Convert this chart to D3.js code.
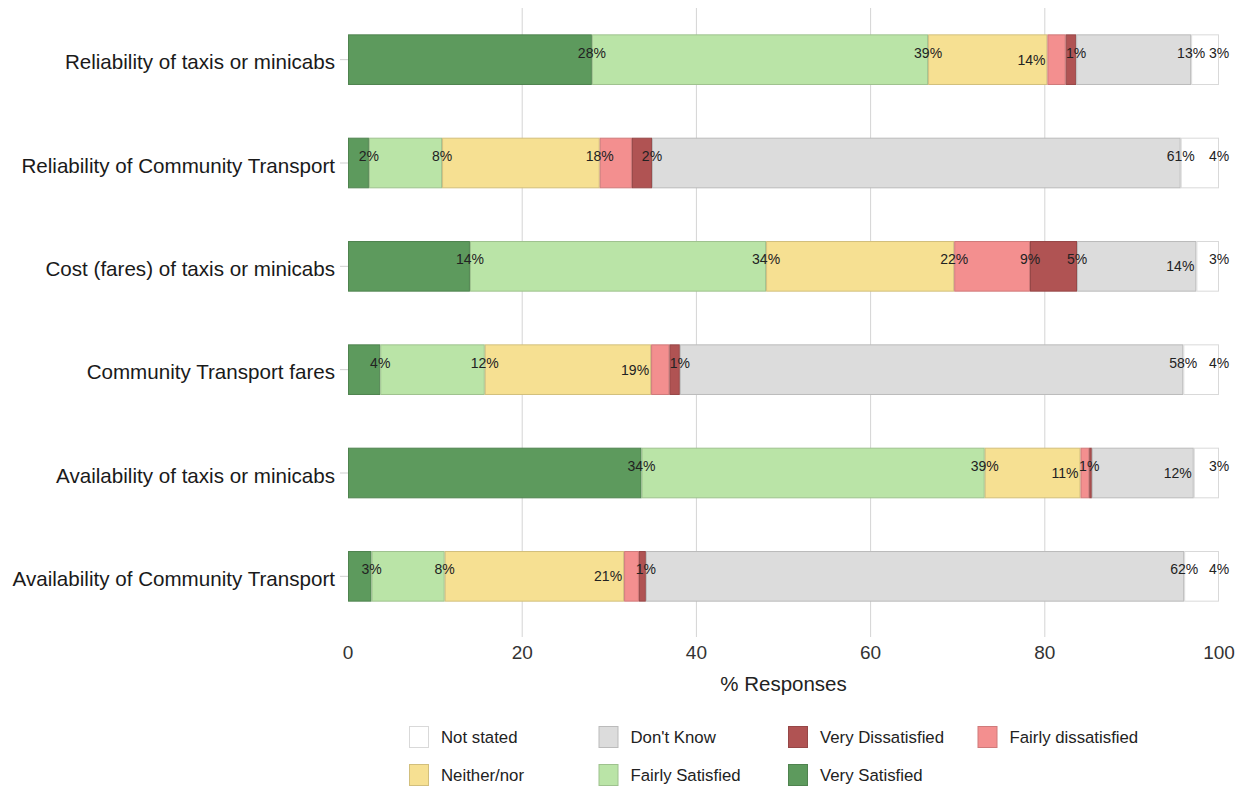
<!DOCTYPE html>
<html>
<head>
<meta charset="utf-8">
<script src="https://cdn.jsdelivr.net/npm/d3@7"></script>
<style>
  body { margin: 0; background: #fff; }
  text { font-family: "Liberation Sans", Arial, sans-serif; }
</style>
</head>
<body>
<svg class="chart" width="1247" height="792"></svg>
<script>
// questions, top to bottom
const questions = [
    "Reliability of taxis or minicabs",
    "Reliability of Community Transport",
    "Cost (fares) of taxis or minicabs",
    "Community Transport fares",
    "Availability of taxis or minicabs",
    "Availability of Community Transport"
]
// response categories, stacked left to right
const responses = ["Very Satisfied", "Fairly Satisfied", "Neither/nor", "Fairly dissatisfied", "Very Dissatisfied", "Don't Know", "Not stated"]
const colors = ["#5d9a5d", "#bae4a7", "#f6e092", "#f38f8f", "#b05353", "#dcdcdc", "#ffffff"]

// % per question, one array per response
const verySatisfied      = [28.0, 2.4, 14.0, 3.7, 33.7, 2.7]
const fairlySatisfied    = [38.6, 8.4, 34.0, 12.0, 39.4, 8.4]
const neitherNor         = [13.7, 18.1, 21.6, 19.1, 11.0, 20.6]
const fairlyDissatisfied = [2.1, 3.7, 8.7, 2.1, 1.0, 1.7]
const veryDissatisfied   = [1.2, 2.3, 5.4, 1.2, 0.3, 0.8]
const dontKnow           = [13.2, 60.7, 13.7, 57.8, 11.7, 61.8]
const notStated          = [3.2, 4.4, 2.6, 4.1, 2.9, 4.0]
const series = [verySatisfied, fairlySatisfied, neitherNor, fairlyDissatisfied, veryDissatisfied, dontKnow, notStated]

const xTicks = [0, 20, 40, 60, 80, 100]
// legend order (2 rows of 4)
const legendOrder = ["Not stated", "Don't Know", "Very Dissatisfied", "Fairly dissatisfied", "Neither/nor", "Fairly Satisfied", "Very Satisfied"]

const svg = d3.select(".chart")
const plotLeft = 348, plotRight = 1219, plotTop = 8, plotBottom = 628

const x = d3.scaleLinear().domain([0, 100]).range([plotLeft, plotRight])
const y = d3.scaleBand().domain(questions).range([plotTop, plotBottom]).paddingInner(0.51).paddingOuter(0.255)
const color = d3.scaleOrdinal().domain(responses).range(colors)

// build rows for d3.stack
const rows = questions.map((q, i) => {
    const r = { q: q }
    responses.forEach((k, j) => { r[k] = series[j][i] })
    return r
})
const stacked = d3.stack().keys(responses)(rows)

// grid lines
svg.append("g").selectAll("line")
    .data(xTicks.filter(d => d > 0 && d < 100))
    .enter().append("line")
    .attr("x1", d => x(d)).attr("x2", d => x(d))
    .attr("y1", plotTop).attr("y2", 637)
    .attr("stroke", "#d4d4d4").attr("stroke-width", 1)

// small ticks on the y axis
svg.append("g").selectAll("line")
    .data(questions)
    .enter().append("line")
    .attr("x1", plotLeft - 8).attr("x2", plotLeft)
    .attr("y1", d => y(d) + y.bandwidth() / 2).attr("y2", d => y(d) + y.bandwidth() / 2)
    .attr("stroke", "#cfcfcf")

// bars
svg.append("g").selectAll("g")
    .data(stacked)
    .enter().append("g")
    .attr("fill", d => color(d.key))
    .attr("stroke", d => d3.color(color(d.key)).darker(0.45))
    .selectAll("rect")
    .data(d => d)
    .enter().append("rect")
    .attr("x", d => x(d[0]) + 0.5)
    .attr("y", d => y(d.data.q) + 0.5)
    .attr("width", d => Math.max(0, x(d[1]) - x(d[0]) - 1))
    .attr("height", y.bandwidth() - 1)

// value labels at the end of each segment, pushed down / dropped when they collide
const labelG = svg.append("g").attr("font-size", "14px").attr("fill", "#222")
const measure = labelG.append("text").attr("visibility", "hidden")
function textW(s) { measure.text(s); return measure.node().getComputedTextLength() }
const gap = 3

questions.forEach((q, i) => {
    const placed = []
    stacked.forEach(s => {
        const v = Math.round(s[i][1] - s[i][0])
        if (v < 1) return
        const t = v + "%"
        const w = textW(t)
        const cx = x(s[i][1])
        const lab = { t: t, w: w, end: cx, lvl: 0, x0: cx - w / 2, x1: cx + w / 2, show: true }
        const prev = placed.filter(p => p.show && p.lvl == 0).pop()
        if (prev && lab.x0 < prev.x1 + gap) {
            // try to move the previous one down, right aligned to its segment end
            const nx0 = prev.end - 2 - prev.w, nx1 = prev.end - 2
            const clash = placed.some(p => p.show && p !== prev && nx0 < p.x1 + gap && nx1 > p.x0 - gap)
            if (clash) {
                prev.show = false
            } else {
                prev.lvl = 1; prev.x0 = nx0; prev.x1 = nx1
            }
        }
        placed.push(lab)
    })
    const cy = y(q) + y.bandwidth() / 2
    placed.filter(p => p.show).forEach(p => {
        labelG.append("text")
            .attr("x", p.lvl == 0 ? p.end : p.end - 2)
            .attr("y", cy + (p.lvl == 0 ? -7 : 0))
            .attr("text-anchor", p.lvl == 0 ? "middle" : "end")
            .attr("dominant-baseline", "central")
            .text(p.t)
    })
})
measure.remove()

// y labels
svg.append("g").selectAll("text")
    .data(questions)
    .enter().append("text")
    .attr("x", 335)
    .attr("y", d => y(d) + y.bandwidth() / 2 + 2)
    .attr("text-anchor", "end")
    .attr("dominant-baseline", "central")
    .attr("font-size", "20.6px")
    .attr("fill", "#1a1a1a")
    .text(d => d)

// x tick labels
svg.append("g").selectAll("text")
    .data(xTicks)
    .enter().append("text")
    .attr("x", d => x(d))
    .attr("y", 652)
    .attr("text-anchor", "middle")
    .attr("dominant-baseline", "central")
    .attr("font-size", "19px")
    .attr("fill", "#333")
    .text(d => d)

svg.append("text")
    .attr("x", x(50)).attr("y", 683)
    .attr("text-anchor", "middle")
    .attr("dominant-baseline", "central")
    .attr("font-size", "20.5px")
    .attr("fill", "#222")
    .text("% Responses")

// legend
const legend = svg.append("g").selectAll("g")
    .data(legendOrder)
    .enter().append("g")
    .attr("transform", (d, i) => `translate(${409 + (i % 4) * 189.5},${i < 4 ? 737 : 775})`)
legend.append("rect")
    .attr("x", 0.5).attr("y", -10.5)
    .attr("width", 19).attr("height", 21)
    .attr("fill", d => color(d))
    .attr("stroke", d => d3.color(color(d)).darker(0.45))
legend.append("text")
    .attr("x", 32).attr("y", 0)
    .attr("dominant-baseline", "central")
    .attr("font-size", "16.8px")
    .attr("fill", "#222")
    .text(d => d)
</script>
</body>
</html>
